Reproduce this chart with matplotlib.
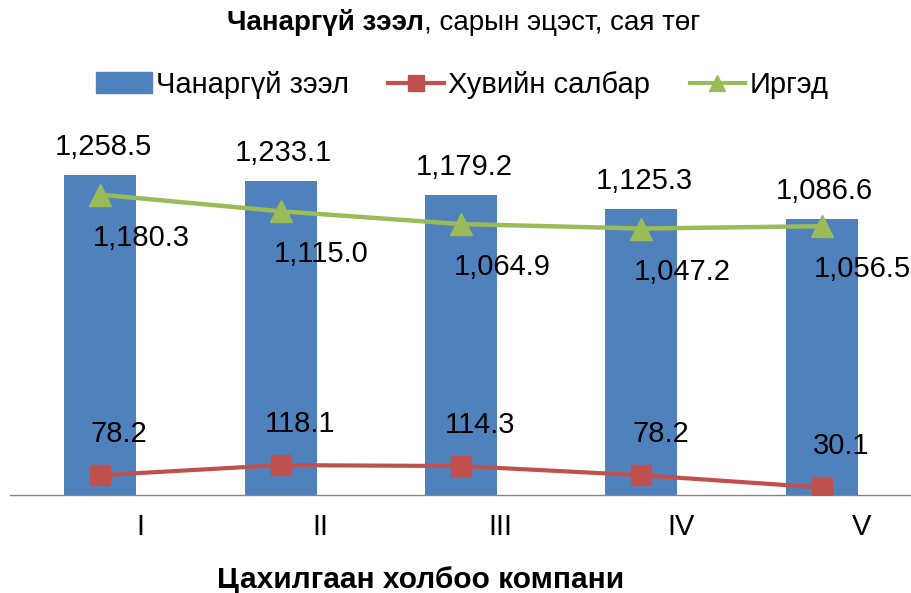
import matplotlib
matplotlib.use("Agg")
import matplotlib.pyplot as plt
from matplotlib.lines import Line2D
from matplotlib.patches import Patch
from matplotlib import font_manager

categories = ["I", "II", "III", "IV", "V"]
total = [1258.5, 1233.1, 1179.2, 1125.3, 1086.6]
private = [78.2, 118.1, 114.3, 78.2, 30.1]
citizens = [1180.3, 1115.0, 1064.9, 1047.2, 1056.5]

names = {f.name for f in font_manager.fontManager.ttflist}
FONT = ["Liberation Sans Narrow", "Liberation Sans", "DejaVu Sans"]
FONT = [f for f in FONT if f in names]
plt.rcParams["font.family"] = FONT

BLUE = "#4F81BD"
RED = "#C0504D"
GREEN = "#9BBB59"

fig = plt.figure(figsize=(9.12, 5.93), dpi=100)
ax = fig.add_axes([0.011, 0.165, 0.989, 0.65])
x = list(range(len(categories)))

ax.bar(x, total, width=0.4, color=BLUE, zorder=1)
ax.plot(x, private, color=RED, lw=3, marker="s", ms=15, zorder=3)
ax.plot(x, citizens, color=GREEN, lw=3.2, marker="^", ms=15.5, zorder=3)

fs = 21
for i in x:
    ax.annotate(f"{total[i]:,.1f}", (i, total[i]), xytext=(3, 28), textcoords="offset pixels",
                ha="center", va="center", fontsize=fs)
    ax.annotate(f"{citizens[i]:,.1f}", (i, citizens[i]), xytext=(41, -43), textcoords="offset pixels",
                ha="center", va="center", fontsize=fs)
    ax.annotate(f"{private[i]:,.1f}", (i, private[i]), xytext=(19, 41), textcoords="offset pixels",
                ha="center", va="center", fontsize=fs)

ax.set_xlim(-0.5, 4.5)
ax.set_ylim(0, 1514)
ax.set_xticks([i + 0.22 for i in x])
ax.set_xticklabels(categories, fontsize=fs)
ax.tick_params(axis="x", length=0, pad=13)
ax.set_yticks([])
for s in ["top", "right", "left"]:
    ax.spines[s].set_visible(False)
ax.spines["bottom"].set_color("#868686")
ax.spines["bottom"].set_linewidth(1)

# title: bold part followed by regular part
fig.canvas.draw()
r = fig.canvas.get_renderer()
t1 = fig.text(0, 0.962, "Чанаргүй зээл", fontsize=20, fontweight="bold", va="center")
t2 = fig.text(0, 0.962, ", сарын эцэст, сая төг", fontsize=20, va="center")
w1 = t1.get_window_extent(r).width
w2 = t2.get_window_extent(r).width
x0 = (464 - (w1 + w2) / 2) / 912
t1.set_x(x0)
t2.set_x(x0 + w1 / 912)

handles = [
    Patch(color=BLUE),
    Line2D([], [], color=RED, lw=3, marker="s", ms=11),
    Line2D([], [], color=GREEN, lw=3, marker="^", ms=11),
]
fig.legend(handles, ["Чанаргүй зээл", "Хувийн салбар", "Иргэд"], loc="center",
           bbox_to_anchor=(0.507, 0.857), ncol=3, frameon=False, fontsize=fs,
           handlelength=1.9, handletextpad=0.15, columnspacing=1.35)

fig.text(421 / 912, 1 - 580 / 593, "Цахилгаан холбоо компани", fontsize=21.5,
         fontweight="bold", ha="center", va="center")

fig.savefig("out.png", dpi=100)
